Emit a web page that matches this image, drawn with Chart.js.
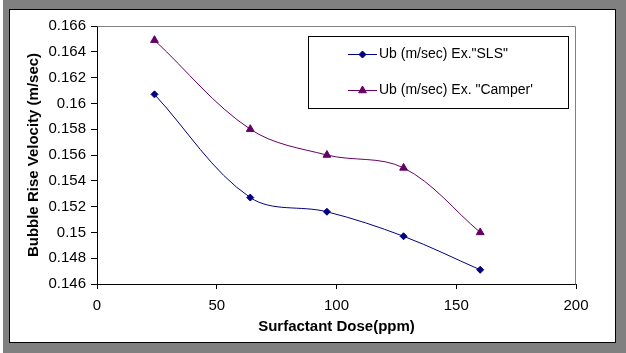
<!DOCTYPE html>
<html>
<head>
<meta charset="utf-8">
<script src="https://cdn.jsdelivr.net/npm/chart.js@4/dist/chart.umd.min.js"></script>
<style>
  body { margin: 0; background: #fff; }
  #wrap { position: relative; width: 626px; height: 353px; overflow: hidden; }
  #shade { position: absolute; left: 3px; top: 0; width: 623px; height: 353px; background: #808080; }
  #box { position: absolute; left: 9px; top: 9px; width: 605px; height: 332px; border: 1px solid #000; background: #fff; }
  #c { position: absolute; left: 0; top: 0; }
</style>
</head>
<body>
<div id="wrap">
  <div id="shade"></div>
  <div id="box"></div>
  <canvas id="c" width="626" height="353"></canvas>
</div>
<script>
// ---- data ----
const doses = [24, 64, 96, 128, 160];
const slsVelocity = [0.1607, 0.1527, 0.1516, 0.1497, 0.1471];
const camperVelocity = [0.1649, 0.1580, 0.1560, 0.1550, 0.1500];
const seriesNames = ['Ub (m/sec) Ex."SLS"', 'Ub (m/sec) Ex. "Camper\''];
const yTickLabels = ['0.146', '0.148', '0.15', '0.152', '0.154', '0.156', '0.158', '0.16', '0.162', '0.164', '0.166'];
const xTickLabels = ['0', '50', '100', '150', '200'];
const xTitle = 'Surfactant Dose(ppm)';
const yTitle = 'Bubble Rise Velocity (m/sec)';

const FONT = "'Liberation Sans', Arial, sans-serif";
const colSLS = '#000080';
const colCamper = '#660066';

const toPts = (ys) => doses.map((x, i) => ({ x: x, y: ys[i] }));

const plotFrame = {
  id: 'plotFrame',
  beforeDatasetsDraw(chart) {
    const { ctx, chartArea: a } = chart;
    ctx.save();
    ctx.strokeStyle = '#808080';
    ctx.lineWidth = 1;
    ctx.beginPath();
    ctx.moveTo(Math.round(a.left) + 0.5, Math.round(a.top) + 0.5);
    ctx.lineTo(Math.round(a.right) - 0.5, Math.round(a.top) + 0.5);
    ctx.lineTo(Math.round(a.right) - 0.5, Math.round(a.bottom) + 0.5);
    ctx.stroke();
    ctx.restore();
  }
};

const boxLegend = {
  id: 'boxLegend',
  afterDraw(chart) {
    const { ctx } = chart;
    const bx = 308, by = 36, bw = 260, bh = 72;
    ctx.save();
    ctx.fillStyle = '#fff';
    ctx.fillRect(bx, by, bw, bh);
    ctx.strokeStyle = '#000';
    ctx.lineWidth = 1;
    ctx.strokeRect(bx + 0.5, by + 0.5, bw, bh);
    const rows = [54, 90];
    chart.data.datasets.forEach((ds, i) => {
      const y = rows[i] + 0.5;
      ctx.strokeStyle = ds.borderColor;
      ctx.lineWidth = 1;
      ctx.beginPath();
      ctx.moveTo(348, y);
      ctx.lineTo(377, y);
      ctx.stroke();
      ctx.fillStyle = ds.pointBackgroundColor;
      ctx.strokeStyle = ds.pointBorderColor;
      Chart.helpers.drawPoint(ctx, {
        pointStyle: ds.pointStyle, radius: ds.pointRadius, rotation: 0, borderWidth: 1
      }, 362.5, y);
      ctx.fillStyle = '#000';
      ctx.font = '14px ' + FONT;
      ctx.textBaseline = 'middle';
      ctx.textAlign = 'left';
      ctx.fillText(ds.label, 379, rows[i]);
    });
    ctx.restore();
  }
};

new Chart(document.getElementById('c'), {
  type: 'line',
  data: {
    datasets: [
      {
        label: seriesNames[0],
        data: toPts(slsVelocity),
        borderColor: colSLS,
        borderWidth: 1,
        pointStyle: 'rectRot',
        pointRadius: 3.5,
        pointBackgroundColor: colSLS,
        pointBorderColor: colSLS,
        tension: 0.35,
        fill: false
      },
      {
        label: seriesNames[1],
        data: toPts(camperVelocity),
        borderColor: colCamper,
        borderWidth: 1,
        pointStyle: 'triangle',
        pointRadius: 4.5,
        pointBackgroundColor: colCamper,
        pointBorderColor: colCamper,
        tension: 0.35,
        fill: false
      }
    ]
  },
  options: {
    responsive: false,
    animation: false,
    devicePixelRatio: 1,
    layout: { padding: { left: 0, top: 26, right: 50, bottom: 0 } },
    plugins: { legend: { display: false }, tooltip: { enabled: false } },
    scales: {
      x: {
        type: 'linear',
        min: 0, max: 200,
        afterFit(s) { s.height = 69; },
        ticks: {
          stepSize: 50,
          color: '#000',
          font: { family: FONT, size: 15 },
          padding: 8,
          maxRotation: 0,
          callback: (v, i) => xTickLabels[i]
        },
        grid: { drawOnChartArea: false, drawTicks: true, tickLength: 5, tickColor: '#000' },
        border: { display: true, color: '#000', width: 1 },
        title: {
          display: true, text: xTitle, color: '#000',
          font: { family: FONT, size: 15, weight: 'bold' },
          padding: { top: 0, bottom: 17 }
        }
      },
      y: {
        min: 0.146, max: 0.166,
        afterFit(s) { s.width = 97; },
        ticks: {
          stepSize: 0.002,
          color: '#000',
          font: { family: FONT, size: 15 },
          padding: 5,
          callback: (v, i) => yTickLabels[i]
        },
        grid: { drawOnChartArea: false, drawTicks: true, tickLength: 6, tickColor: '#000' },
        border: { display: true, color: '#000', width: 1 },
        title: {
          display: true, text: yTitle, color: '#000',
          font: { family: FONT, size: 15, weight: 'bold' },
          padding: { top: 25, bottom: 0 }
        }
      }
    }
  },
  plugins: [plotFrame, boxLegend]
});
</script>
</body>
</html>
